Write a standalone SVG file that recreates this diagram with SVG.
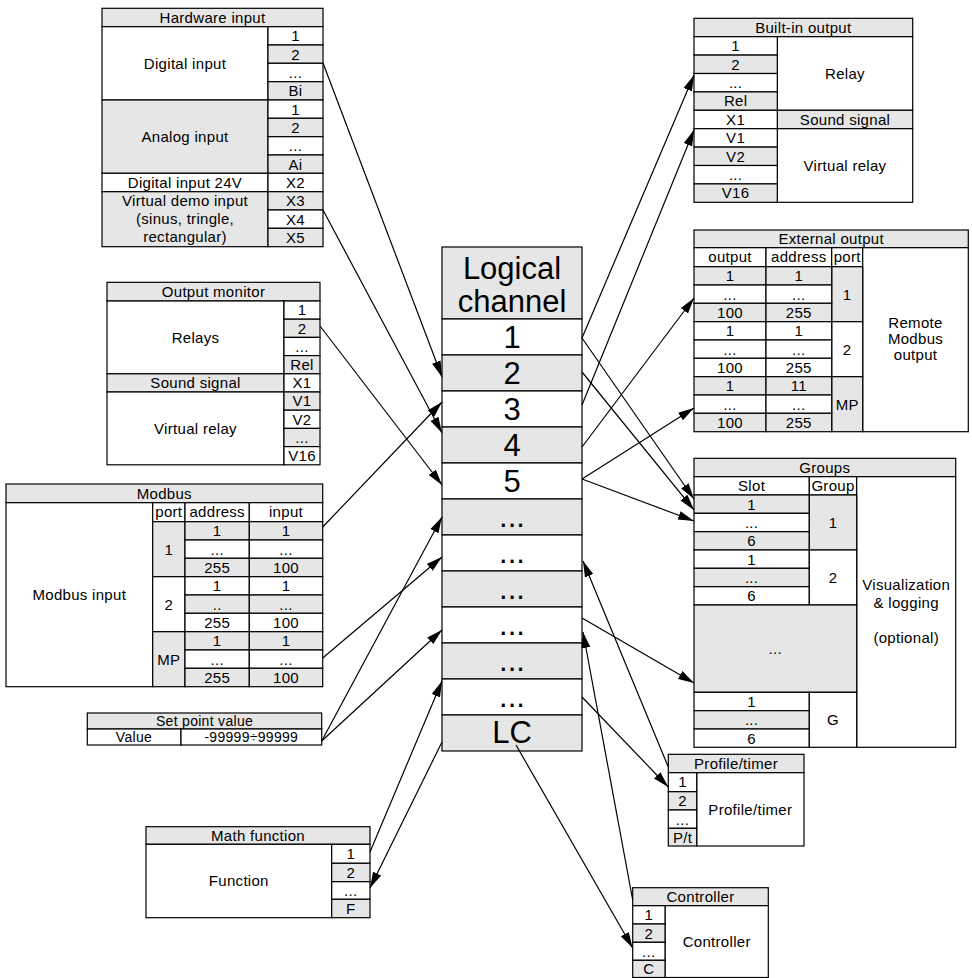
<svg xmlns="http://www.w3.org/2000/svg" width="972" height="978" viewBox="0 0 972 978">
<defs>
<style>
rect.w{fill:#ffffff;stroke:#000;stroke-width:1.2}
rect.g{fill:#e6e6e6;stroke:#000;stroke-width:1.2}
text{font-family:"Liberation Sans",Arial,sans-serif;font-size:15px;fill:#000;text-anchor:middle;letter-spacing:0.3px}
text.big{font-size:31px;letter-spacing:0}
text.sm{font-size:14px}
#connectors line{stroke:#000;stroke-width:1.2;fill:none;marker-end:url(#ah)}
</style>
<marker id="ah" markerWidth="16" markerHeight="10" refX="16" refY="5" orient="auto" markerUnits="userSpaceOnUse"><path d="M0,0.5 L16,5 L0,9.5 z" fill="#000"/></marker>
</defs>
<rect x="0" y="0" width="972" height="978" fill="#fff"/>

<g id="hardware-input">
<rect class="g" x="102" y="8.3" width="221" height="18.4"/><text x="212.5" y="22.8">Hardware input</text>
<rect class="w" x="102" y="26.7" width="166" height="73.3"/><text x="185" y="68.6">Digital input</text>
<rect class="g" x="102" y="100" width="166" height="73.3"/><text x="185" y="141.9">Analog input</text>
<rect class="w" x="102" y="173.3" width="166" height="18.4"/><text x="185" y="187.8">Digital input 24V</text>
<rect class="g" x="102" y="191.7" width="166" height="55"/><text x="185" y="205.5">Virtual demo input</text><text x="185" y="223.5">(sinus, tringle,</text><text x="185" y="241.5">rectangular)</text>
<rect class="w" x="268" y="26.7" width="55" height="18.3"/><text x="295.5" y="41.2">1</text>
<rect class="g" x="268" y="45" width="55" height="18.3"/><text x="295.5" y="59.5">2</text>
<rect class="w" x="268" y="63.3" width="55" height="18.4"/><text x="295.5" y="77.8">...</text>
<rect class="g" x="268" y="81.7" width="55" height="18.3"/><text x="295.5" y="96.2">Bi</text>
<rect class="w" x="268" y="100" width="55" height="18.3"/><text x="295.5" y="114.5">1</text>
<rect class="g" x="268" y="118.3" width="55" height="18.4"/><text x="295.5" y="132.8">2</text>
<rect class="w" x="268" y="136.7" width="55" height="18.3"/><text x="295.5" y="151.2">...</text>
<rect class="g" x="268" y="155" width="55" height="18.3"/><text x="295.5" y="169.5">Ai</text>
<rect class="w" x="268" y="173.3" width="55" height="18.4"/><text x="295.5" y="187.8">X2</text>
<rect class="g" x="268" y="191.7" width="55" height="18.3"/><text x="295.5" y="206.2">X3</text>
<rect class="w" x="268" y="210" width="55" height="18.3"/><text x="295.5" y="224.5">X4</text>
<rect class="g" x="268" y="228.3" width="55" height="18.4"/><text x="295.5" y="242.8">X5</text>
</g>

<g id="output-monitor">
<rect class="g" x="107" y="282.3" width="213" height="18.7"/><text x="213.5" y="296.5">Output monitor</text>
<rect class="w" x="107" y="301" width="177" height="72.8"/><text x="195.5" y="342.7">Relays</text>
<rect class="g" x="107" y="373.8" width="177" height="18.2"/><text x="195.5" y="388.2">Sound signal</text>
<rect class="w" x="107" y="392" width="177" height="72.8"/><text x="195.5" y="433.7">Virtual relay</text>
<rect class="w" x="284" y="301" width="36" height="18.2"/><text x="302" y="315.4">1</text>
<rect class="g" x="284" y="319.2" width="36" height="18.2"/><text x="302" y="333.6">2</text>
<rect class="w" x="284" y="337.4" width="36" height="18.2"/><text x="302" y="351.8">...</text>
<rect class="g" x="284" y="355.6" width="36" height="18.2"/><text x="302" y="370">Rel</text>
<rect class="w" x="284" y="373.8" width="36" height="18.2"/><text x="302" y="388.2">X1</text>
<rect class="g" x="284" y="392" width="36" height="18.2"/><text x="302" y="406.4">V1</text>
<rect class="w" x="284" y="410.2" width="36" height="18.2"/><text x="302" y="424.6">V2</text>
<rect class="g" x="284" y="428.4" width="36" height="18.2"/><text x="302" y="442.8">...</text>
<rect class="w" x="284" y="446.6" width="36" height="18.2"/><text x="302" y="461">V16</text>
</g>

<g id="modbus">
<rect class="g" x="6" y="484" width="316.7" height="18.7"/><text x="164.3" y="498.5">Modbus</text>
<rect class="w" x="6" y="502.7" width="146.7" height="184"/><text x="79.3" y="600">Modbus input</text>
<rect class="w" x="152.7" y="502.7" width="32.3" height="19"/><text x="168.8" y="517.3">port</text>
<rect class="w" x="185" y="502.7" width="64.3" height="19"/><text x="217.2" y="517.3">address</text>
<rect class="w" x="249.3" y="502.7" width="73.4" height="19"/><text x="286" y="517.3">input</text>
<rect class="g" x="152.7" y="521.7" width="32.3" height="55"/><text x="168.8" y="554.5">1</text>
<rect class="w" x="152.7" y="576.7" width="32.3" height="55"/><text x="168.8" y="609.5">2</text>
<rect class="g" x="152.7" y="631.7" width="32.3" height="55"/><text x="168.8" y="664.5">MP</text>
<rect class="g" x="185" y="521.7" width="64.3" height="18.3"/><text x="217.2" y="536.2">1</text>
<rect class="g" x="249.3" y="521.7" width="73.4" height="18.3"/><text x="286" y="536.2">1</text>
<rect class="w" x="185" y="540" width="64.3" height="18.3"/><text x="217.2" y="554.5">...</text>
<rect class="w" x="249.3" y="540" width="73.4" height="18.3"/><text x="286" y="554.5">...</text>
<rect class="g" x="185" y="558.3" width="64.3" height="18.4"/><text x="217.2" y="572.8">255</text>
<rect class="g" x="249.3" y="558.3" width="73.4" height="18.4"/><text x="286" y="572.8">100</text>
<rect class="w" x="185" y="576.7" width="64.3" height="18.3"/><text x="217.2" y="591.2">1</text>
<rect class="w" x="249.3" y="576.7" width="73.4" height="18.3"/><text x="286" y="591.2">1</text>
<rect class="g" x="185" y="595" width="64.3" height="18.3"/><text x="217.2" y="609.5">..</text>
<rect class="g" x="249.3" y="595" width="73.4" height="18.3"/><text x="286" y="609.5">...</text>
<rect class="w" x="185" y="613.3" width="64.3" height="18.4"/><text x="217.2" y="627.8">255</text>
<rect class="w" x="249.3" y="613.3" width="73.4" height="18.4"/><text x="286" y="627.8">100</text>
<rect class="g" x="185" y="631.7" width="64.3" height="18.3"/><text x="217.2" y="646.2">1</text>
<rect class="g" x="249.3" y="631.7" width="73.4" height="18.3"/><text x="286" y="646.2">1</text>
<rect class="w" x="185" y="650" width="64.3" height="18.3"/><text x="217.2" y="664.5">...</text>
<rect class="w" x="249.3" y="650" width="73.4" height="18.3"/><text x="286" y="664.5">...</text>
<rect class="g" x="185" y="668.3" width="64.3" height="18.4"/><text x="217.2" y="682.8">255</text>
<rect class="g" x="249.3" y="668.3" width="73.4" height="18.4"/><text x="286" y="682.8">100</text>
</g>

<g id="set-point-value">
<rect class="g" x="87.3" y="713" width="234.4" height="16"/>
<rect class="w" x="87.3" y="729" width="93.7" height="16"/>
<rect class="w" x="181" y="729" width="140.7" height="16"/>
<text class="sm" x="204.5" y="725.5">Set point value</text>
<text class="sm" x="134" y="741.6">Value</text>
<text class="sm" x="251.3" y="741.6">-99999÷99999</text>
</g>

<g id="math-function">
<rect class="g" x="146" y="826.7" width="224" height="17.6"/><text x="258" y="840.5">Math function</text>
<rect class="w" x="146" y="844.3" width="185.7" height="73.4"/><text x="238.8" y="886.3">Function</text>
<rect class="w" x="331.7" y="844.3" width="38.3" height="19"/><text x="350.8" y="858.8">1</text>
<rect class="g" x="331.7" y="863.3" width="38.3" height="18.4"/><text x="350.8" y="877.8">2</text>
<rect class="w" x="331.7" y="881.7" width="38.3" height="17.6"/><text x="350.8" y="895.8">...</text>
<rect class="g" x="331.7" y="899.3" width="38.3" height="18.4"/><text x="350.8" y="913.8">F</text>
</g>

<g id="logical-channel">
<rect class="g" x="442" y="247" width="140" height="72"/>
<text class="big" x="512" y="279">Logical</text>
<text class="big" x="512" y="312">channel</text>
<rect class="w" x="442" y="319" width="140" height="36"/><text class="big" x="512" y="348">1</text>
<rect class="g" x="442" y="355" width="140" height="36"/><text class="big" x="512" y="384">2</text>
<rect class="w" x="442" y="391" width="140" height="36"/><text class="big" x="512" y="420">3</text>
<rect class="g" x="442" y="427" width="140" height="36"/><text class="big" x="512" y="456">4</text>
<rect class="w" x="442" y="463" width="140" height="36"/><text class="big" x="512" y="492">5</text>
<rect class="g" x="442" y="499" width="140" height="36"/><text class="big" x="512" y="527">...</text>
<rect class="w" x="442" y="535" width="140" height="36"/><text class="big" x="512" y="563">...</text>
<rect class="g" x="442" y="571" width="140" height="36"/><text class="big" x="512" y="599">...</text>
<rect class="w" x="442" y="607" width="140" height="36"/><text class="big" x="512" y="635">...</text>
<rect class="g" x="442" y="643" width="140" height="36"/><text class="big" x="512" y="671">...</text>
<rect class="w" x="442" y="679" width="140" height="36"/><text class="big" x="512" y="707">...</text>
<rect class="g" x="442" y="715" width="140" height="36"/><text class="big" x="512" y="743">LC</text>
</g>

<g id="built-in-output">
<rect class="g" x="694" y="18.3" width="218.7" height="18.4"/><text x="803.3" y="32.8">Built-in output</text>
<rect class="w" x="777.3" y="36.7" width="135.4" height="73.6"/><text x="845" y="78.8">Relay</text>
<rect class="g" x="777.3" y="110.3" width="135.4" height="18.4"/><text x="845" y="124.8">Sound signal</text>
<rect class="w" x="777.3" y="128.7" width="135.4" height="73.6"/><text x="845" y="170.8">Virtual relay</text>
<rect class="w" x="694" y="36.7" width="83.3" height="18.4"/><text x="735.6" y="51.2">1</text>
<rect class="g" x="694" y="55.1" width="83.3" height="18.4"/><text x="735.6" y="69.6">2</text>
<rect class="w" x="694" y="73.5" width="83.3" height="18.4"/><text x="735.6" y="88">...</text>
<rect class="g" x="694" y="91.9" width="83.3" height="18.4"/><text x="735.6" y="106.4">Rel</text>
<rect class="w" x="694" y="110.3" width="83.3" height="18.4"/><text x="735.6" y="124.8">X1</text>
<rect class="w" x="694" y="128.7" width="83.3" height="18.4"/><text x="735.6" y="143.2">V1</text>
<rect class="g" x="694" y="147.1" width="83.3" height="18.4"/><text x="735.6" y="161.6">V2</text>
<rect class="w" x="694" y="165.5" width="83.3" height="18.4"/><text x="735.6" y="180">...</text>
<rect class="g" x="694" y="183.9" width="83.3" height="18.4"/><text x="735.6" y="198.4">V16</text>
</g>

<g id="external-output">
<rect class="g" x="694" y="230" width="274.3" height="17.7"/><text x="831.2" y="244">External output</text>
<rect class="w" x="694" y="247.7" width="72" height="19"/><text x="730" y="262.2">output</text>
<rect class="w" x="766" y="247.7" width="65.7" height="19"/><text x="798.8" y="262.2">address</text>
<rect class="w" x="831.7" y="247.7" width="31" height="19"/><text x="847.2" y="262.2">port</text>
<rect class="w" x="862.7" y="247.7" width="105.6" height="184"/>
<text x="915.5" y="328">Remote</text><text x="915.5" y="344">Modbus</text><text x="915.5" y="360">output</text>
<rect class="g" x="831.7" y="266.7" width="31" height="55"/><text x="847.2" y="299.5">1</text>
<rect class="w" x="831.7" y="321.7" width="31" height="55"/><text x="847.2" y="354.5">2</text>
<rect class="g" x="831.7" y="376.7" width="31" height="55"/><text x="847.2" y="409.5">MP</text>
<rect class="g" x="694" y="266.7" width="72" height="18.3"/><rect class="g" x="766" y="266.7" width="65.7" height="18.3"/><text x="730" y="281.2">1</text><text x="798.8" y="281.2">1</text>
<rect class="w" x="694" y="285" width="72" height="18.3"/><rect class="w" x="766" y="285" width="65.7" height="18.3"/><text x="730" y="299.5">...</text><text x="798.8" y="299.5">...</text>
<rect class="g" x="694" y="303.3" width="72" height="18.4"/><rect class="g" x="766" y="303.3" width="65.7" height="18.4"/><text x="730" y="317.8">100</text><text x="798.8" y="317.8">255</text>
<rect class="w" x="694" y="321.7" width="72" height="18.3"/><rect class="w" x="766" y="321.7" width="65.7" height="18.3"/><text x="730" y="336.2">1</text><text x="798.8" y="336.2">1</text>
<rect class="w" x="694" y="340" width="72" height="18.3"/><rect class="w" x="766" y="340" width="65.7" height="18.3"/><text x="730" y="354.5">...</text><text x="798.8" y="354.5">...</text>
<rect class="w" x="694" y="358.3" width="72" height="18.4"/><rect class="w" x="766" y="358.3" width="65.7" height="18.4"/><text x="730" y="372.8">100</text><text x="798.8" y="372.8">255</text>
<rect class="g" x="694" y="376.7" width="72" height="18.3"/><rect class="g" x="766" y="376.7" width="65.7" height="18.3"/><text x="730" y="391.2">1</text><text x="798.8" y="391.2">11</text>
<rect class="w" x="694" y="395" width="72" height="18.3"/><rect class="w" x="766" y="395" width="65.7" height="18.3"/><text x="730" y="409.5">...</text><text x="798.8" y="409.5">...</text>
<rect class="g" x="694" y="413.3" width="72" height="18.4"/><rect class="g" x="766" y="413.3" width="65.7" height="18.4"/><text x="730" y="427.8">100</text><text x="798.8" y="427.8">255</text>
</g>

<g id="groups">
<rect class="g" x="694" y="458.3" width="261.7" height="18.4"/><text x="824.8" y="472.8">Groups</text>
<rect class="w" x="694" y="476.7" width="115.3" height="18.3"/><text x="751.6" y="491">Slot</text>
<rect class="w" x="809.3" y="476.7" width="47.4" height="18.3"/><text x="833" y="491">Group</text>
<rect class="w" x="856.7" y="476.7" width="99" height="270.6"/>
<text x="906.2" y="590">Visualization</text><text x="906.2" y="608">&amp; logging</text><text x="906.2" y="643">(optional)</text>
<rect class="g" x="694" y="495" width="115.3" height="18.3"/><text x="751.6" y="509.5">1</text>
<rect class="w" x="694" y="513.3" width="115.3" height="18.4"/><text x="751.6" y="527.8">...</text>
<rect class="g" x="694" y="531.7" width="115.3" height="18.3"/><text x="751.6" y="546.2">6</text>
<rect class="g" x="809.3" y="495" width="47.4" height="55"/><text x="833" y="527.8">1</text>
<rect class="w" x="694" y="550" width="115.3" height="18.3"/><text x="751.6" y="564.5">1</text>
<rect class="g" x="694" y="568.3" width="115.3" height="18.4"/><text x="751.6" y="582.8">...</text>
<rect class="w" x="694" y="586.7" width="115.3" height="18.3"/><text x="751.6" y="601.2">6</text>
<rect class="w" x="809.3" y="550" width="47.4" height="55"/><text x="833" y="582.8">2</text>
<rect class="g" x="694" y="605" width="162.7" height="87.3"/><text x="775.3" y="654">...</text>
<rect class="w" x="694" y="692.3" width="115.3" height="18.4"/><text x="751.6" y="706.8">1</text>
<rect class="g" x="694" y="710.7" width="115.3" height="18.3"/><text x="751.6" y="725.2">...</text>
<rect class="w" x="694" y="729" width="115.3" height="18.3"/><text x="751.6" y="743.5">6</text>
<rect class="w" x="809.3" y="692.3" width="47.4" height="55"/><text x="833" y="725">G</text>
</g>

<g id="profile-timer">
<rect class="g" x="668.3" y="754.3" width="135.7" height="18.4"/><text x="736" y="768.8">Profile/timer</text>
<rect class="w" x="696.7" y="772.7" width="107.3" height="73.3"/><text x="750.3" y="814.6">Profile/timer</text>
<rect class="w" x="668.3" y="772.7" width="28.4" height="19"/><text x="682.5" y="787.2">1</text>
<rect class="g" x="668.3" y="791.7" width="28.4" height="18.3"/><text x="682.5" y="806.2">2</text>
<rect class="w" x="668.3" y="810" width="28.4" height="18.3"/><text x="682.5" y="824.5">...</text>
<rect class="g" x="668.3" y="828.3" width="28.4" height="17.7"/><text x="682.5" y="842.5">P/t</text>
</g>

<g id="controller">
<rect class="g" x="632.7" y="887.7" width="135.6" height="18"/><text x="700.5" y="902">Controller</text>
<rect class="w" x="665" y="905.7" width="103.3" height="71.8"/><text x="716.7" y="947">Controller</text>
<rect class="w" x="632.7" y="905.7" width="32.3" height="18.3"/><text x="648.8" y="920.2">1</text>
<rect class="g" x="632.7" y="924" width="32.3" height="18.3"/><text x="648.8" y="938.5">2</text>
<rect class="w" x="632.7" y="942.3" width="32.3" height="18"/><text x="648.8" y="956.5">...</text>
<rect class="g" x="632.7" y="960.3" width="32.3" height="17.2"/><text x="648.8" y="974">C</text>
</g>

<g id="connectors">
<line x1="323" y1="63" x2="442" y2="377"/>
<line x1="323" y1="210" x2="442" y2="433"/>
<line x1="320" y1="326" x2="442" y2="485"/>
<line x1="322.7" y1="527" x2="442" y2="402"/>
<line x1="322.7" y1="658" x2="442" y2="557"/>
<line x1="321.7" y1="741" x2="442" y2="517"/>
<line x1="321.7" y1="741" x2="442" y2="630"/>
<line x1="370" y1="852" x2="442" y2="681"/>
<line x1="582" y1="338" x2="694" y2="75"/>
<line x1="582" y1="405" x2="694" y2="130"/>
<line x1="582" y1="447" x2="694" y2="298"/>
<line x1="582" y1="479" x2="694" y2="408"/>
<line x1="582" y1="338" x2="694" y2="499"/>
<line x1="582" y1="372" x2="694" y2="510"/>
<line x1="582" y1="479" x2="694" y2="521"/>
<line x1="582" y1="618" x2="694" y2="683"/>
<line x1="582" y1="697" x2="668.3" y2="787"/>
<line x1="668.3" y1="767" x2="583" y2="561"/>
<line x1="632.7" y1="900" x2="583" y2="632"/>
<line x1="516" y1="745" x2="632.7" y2="948"/>
<line x1="442" y1="742" x2="370" y2="888"/>
</g>
</svg>
